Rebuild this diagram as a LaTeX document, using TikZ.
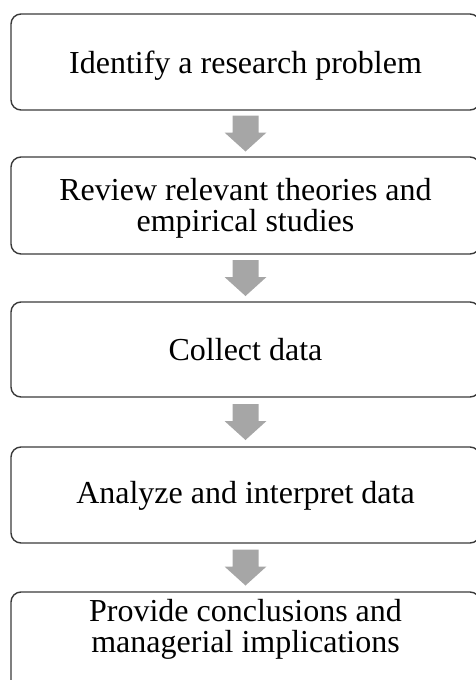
\documentclass[tikz,border=0pt]{standalone}
\usepackage{fontspec}
\setmainfont{Liberation Serif}
\usetikzlibrary{calc}
\definecolor{boxline}{HTML}{3A3A3A}
\definecolor{arrowgray}{HTML}{A6A6A6}
\begin{document}
\begin{tikzpicture}[x=1pt, y=-1pt,
  stepbox/.style={draw=boxline, line width=1.4pt, rounded corners=10pt,
    minimum width=469pt, inner sep=0pt, outer sep=0pt},
  steptext/.style={anchor=base, inner sep=0pt, outer sep=0pt,
    font=\fontsize{32}{31.5}\selectfont},
  down arrow/.pic={
    \fill[arrowgray] (-13,-18) -- (13,-18) -- (13,-1) -- (21,-1)
      -- (0,18) -- (-21,-1) -- (-13,-1) -- cycle;
  }]
  \useasboundingbox (0,0) rectangle (476,680);
  \clip (0,0) rectangle (476,680);

  % step boxes
  \node[stepbox, minimum height=96pt]  (b1) at (245.5,62)    {};
  \node[stepbox, minimum height=97pt]  (b2) at (245.5,205.5) {};
  \node[stepbox, minimum height=95pt]  (b3) at (245.5,349.5) {};
  \node[stepbox, minimum height=96pt]  (b4) at (245.5,495)   {};
  \node[stepbox, minimum height=110pt] (b5) at (245.5,647)   {};

  % step labels (anchored at the first baseline)
  \node[steptext] (t1) at (245.5,73)  {Identify a research problem};
  \node[steptext] (t2) at (245.5,200) {\parbox[t]{440pt}{\centering
      Review relevant theories and\\ empirical studies}};
  \node[steptext] (t3) at (245.5,360) {Collect data};
  \node[steptext] (t4) at (245.5,503) {Analyze and interpret data};
  \node[steptext] (t5) at (245.5,621) {\parbox[t]{440pt}{\centering
      Provide conclusions and\\ managerial implications}};

  % block arrows between consecutive steps
  \path ($(b1.south)!0.5!(b2.north)$) pic {down arrow};
  \path ($(b2.south)!0.5!(b3.north)$) pic {down arrow};
  \path ($(b3.south)!0.5!(b4.north)$) pic {down arrow};
  \path ($(b4.south)!0.5!(b5.north)$) pic {down arrow};
\end{tikzpicture}
\end{document}
